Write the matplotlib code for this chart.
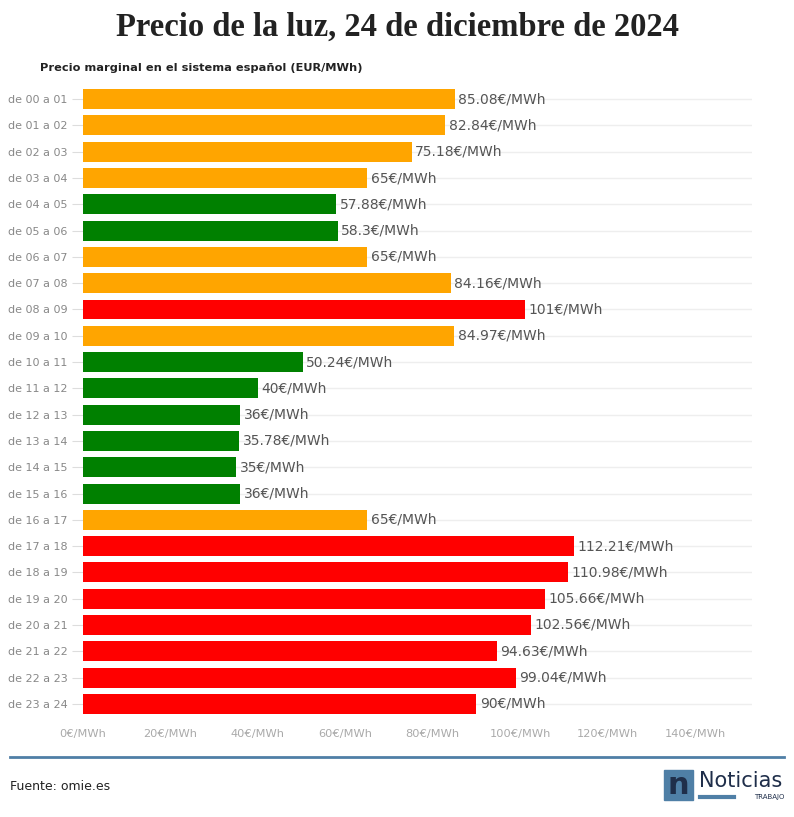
import matplotlib.pyplot as plt
from matplotlib.patches import Rectangle
from matplotlib.lines import Line2D

hours = ['de %02d a %02d' % (h, h + 1) for h in range(24)]
prices = [85.08, 82.84, 75.18, 65, 57.88, 58.3, 65, 84.16, 101, 84.97,
          50.24, 40, 36, 35.78, 35, 36, 65, 112.21, 110.98, 105.66,
          102.56, 94.63, 99.04, 90]
levels = ['mid', 'mid', 'mid', 'mid', 'low', 'low', 'mid', 'mid', 'high', 'mid',
          'low', 'low', 'low', 'low', 'low', 'low', 'mid', 'high', 'high', 'high',
          'high', 'high', 'high', 'high']
level_colors = {'low': '#008000', 'mid': '#FFA500', 'high': '#FF0000'}
xticks = [0, 20, 40, 60, 80, 100, 120, 140]

fig = plt.figure(figsize=(7.94, 8.17), dpi=100)
ax = fig.add_axes([0.1045, 0.1224, 0.8425, 0.7723])

ypos = list(range(len(hours)))
ax.barh(ypos, prices, height=0.76, color=[level_colors[l] for l in levels], zorder=3)
for y, v in zip(ypos, prices):
    ax.text(v + 0.8, y, '{:g}€/MWh'.format(v), va='center', ha='left',
            fontsize=10, color='#555555', zorder=4)

ax.set_ylim(len(hours) - 0.5, -0.5)
ax.set_xlim(0, 153)
ax.set_yticks(ypos)
ax.set_yticklabels(hours, fontsize=8, color='#888888')
ax.set_xticks(xticks)
ax.set_xticklabels(['%d€/MWh' % t for t in xticks], fontsize=8.2, color='#aaaaaa')
ax.tick_params(axis='y', length=8, color='#dddddd', pad=3)
ax.tick_params(axis='x', length=0, pad=9)
ax.grid(axis='y', color='#eeeeee', linewidth=1, zorder=0)
for s in ax.spines.values():
    s.set_visible(False)

fig.text(0.5, 0.967, 'Precio de la luz, 24 de diciembre de 2024', ha='center', va='center',
         fontsize=23.5, family='Liberation Serif', fontweight='bold', color='#222222')
fig.text(0.05, 0.917, 'Precio marginal en el sistema español (EUR/MWh)', ha='left', va='center',
         fontsize=8.2, fontweight='bold', color='#222222')

fig.add_artist(Line2D([10 / 794, 784 / 794], [1 - 757 / 817] * 2, color='#4f7fa6', linewidth=2))
fig.text(10 / 794, 1 - 787 / 817, 'Fuente: omie.es', ha='left', va='center', fontsize=9, color='#222222')

# logo
fig.add_artist(Rectangle((664 / 794, 1 - 800 / 817), 29 / 794, 30 / 817, color='#4f7fa6'))
fig.text(678.5 / 794, 1 - 786 / 817, 'n', ha='center', va='center', fontsize=22,
         fontweight='bold', color='#1f2e4a')
fig.text(699 / 794, 1 - 781 / 817, 'Noticias', ha='left', va='center', fontsize=15, color='#1f2e4a')
fig.add_artist(Line2D([700 / 794, 734 / 794], [1 - 797 / 817] * 2, color='#4f7fa6', linewidth=3))
fig.text(784 / 794, 1 - 797 / 817, 'TRABAJO', ha='right', va='center', fontsize=5, color='#1f2e4a')

fig.savefig('out.png', dpi=100, facecolor='white')
